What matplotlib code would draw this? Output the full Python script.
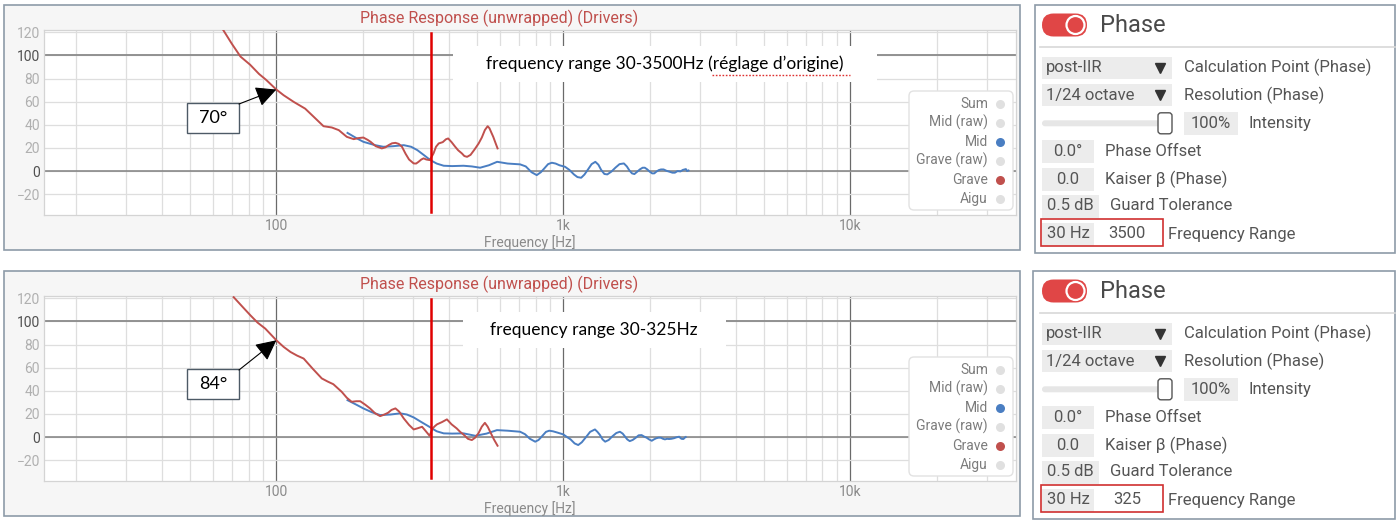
import matplotlib
matplotlib.use("Agg")
import matplotlib.pyplot as plt
import numpy as np
from matplotlib.patches import FancyBboxPatch, Rectangle, Circle
from matplotlib.ticker import LogLocator, FixedLocator, NullFormatter

W, H = 1400, 522

# ---- data ----
# chart 1: frequency range 30-3500 Hz
grave1_f = [65.4, 70, 75, 81, 87, 92, 100, 106, 115, 126, 135, 146, 156, 165, 176, 186, 193, 201, 208, 213,
            222, 233, 240, 246, 253, 260, 267, 274, 282, 290, 301, 307, 313, 320, 326, 333, 342, 347, 353,
            360, 368, 380, 390, 397, 408, 420, 430, 443, 452, 462, 475, 490, 507, 520, 533, 545, 553, 562,
            570, 580, 590]
grave1_v = [121.7, 110, 99, 92, 84, 79, 70.5, 65.6, 59.8, 54, 46.9, 38.8, 37.7, 35.4, 29.6, 27.6, 28.5, 29, 27, 25.3,
            21.5, 19.6, 20.5, 22.4, 24, 24.4, 23.5, 21, 15, 10, 6.6, 6.5, 8, 10, 11, 10, 9.5, 12, 15.3,
            21, 23.9, 25, 27.5, 28.2, 25, 21, 18, 15.3, 13, 12.3, 14, 18.5, 23.9, 29, 35.5, 38.8, 37, 33,
            29.6, 24.5, 19.6]
mid1_f = [177, 190, 201, 220, 236, 255, 278, 295, 310, 328, 344, 362, 383, 410, 449, 480, 513, 550, 588,
          640, 707, 740, 775, 808, 835, 860, 885, 912, 940, 970, 1014, 1050, 1090, 1120, 1154, 1185, 1220,
          1255, 1293, 1325, 1355, 1390, 1423, 1470, 1520, 1570, 1626, 1665, 1700, 1735, 1769, 1810, 1850,
          1890, 1923, 1960, 2000, 2040, 2075, 2110, 2150, 2190, 2236, 2290, 2340, 2400, 2448, 2500, 2560,
          2610, 2674, 2700, 2730]
mid1_v = [33, 28.5, 25.3, 22.5, 21, 21.5, 22.4, 21, 18.1, 13.5, 9.5, 6.5, 4.6, 4.3, 4.6, 4, 2.9, 5, 8,
          6.5, 5.8, 4, -1, -3.5, -1, 2.5, 6, 7.2, 6.5, 5, 3.7, 1, -3, -5.2, -5.8, -3, 1.5,
          6, 8, 5.5, 1, -2.5, -2.9, -0.5, 3, 6, 6.6, 4, 0.5, -2, -2.6, -0.5, 1.5,
          2.9, 2.9, 1.5, -0.5, -2, -2, -0.5, 0.8, 1.4, 1.4, 0.2, -0.5, -1.4, -1.4, 0, -0.3,
          1, 1.7, 0, 0.5]

# chart 2: frequency range 30-325 Hz
grave2_f = [71, 76, 81.2, 86, 91.5, 100, 106, 112, 118, 124.5, 134, 144, 151, 158, 169, 176, 183, 190, 196,
            204, 212, 221, 230, 238, 245, 252, 260, 268, 278, 290, 301, 310, 322, 332, 342, 347, 352, 357,
            363, 378, 393, 408, 425, 437, 450, 465, 480, 493, 506, 520, 533, 545, 556, 573, 590]
grave2_v = [121, 113, 105.3, 99, 93.8, 83.7, 78, 73.6, 70.5, 67.9, 59, 50.7, 48, 45.7, 39.1, 34, 30.5, 31, 31,
            28, 24.8, 20.5, 18.1, 19.5, 21, 23.5, 24.8, 22, 16.1, 10.5, 6.6, 7.5, 8.9, 5, 1.1, 5, 8, 9.5,
            11, 13, 15.3, 11, 7.5, 4.5, 2, -1.5, -2.6, -0.5, 3.2, 9, 12.3, 9, 4.6, -2, -7.5]
mid2_f = [177, 190, 201, 215, 230, 250, 270, 285, 301, 320, 344, 362, 383, 410, 449, 494, 540, 587, 640,
          707, 735, 765, 798, 820, 845, 870, 893, 920, 950, 1000, 1030, 1060, 1095, 1127, 1160, 1200, 1240,
          1289, 1315, 1340, 1370, 1399, 1440, 1480, 1530, 1575, 1610, 1640, 1670, 1704, 1745, 1790, 1830,
          1874, 1910, 1950, 1990, 2033, 2070, 2110, 2150, 2189, 2225, 2260, 2300, 2335, 2380, 2430, 2480,
          2533, 2560, 2580, 2621, 2650, 2670]
mid2_v = [31.9, 28, 24.8, 21.5, 19, 19.5, 20.5, 19.5, 17, 13, 8.4, 5, 3.2, 3, 3.2, 1.1, 3, 6, 5.5,
          4.6, 2.5, -1.5, -4, -2.5, 1, 4.5, 5.5, 5, 4, 2.3, 0, -2, -5.5, -6.9, -4.5, 0, 4.5,
          6.6, 4.5, 2, -2, -4, -2.5, 0.5, 3.5, 4.6, 3, 0.5, -2, -3.5, -2.5, -0.5, 1.5,
          1.7, 0.5, -0.5, -2, -3.2, -2, -1, -0.5, -0.6, -1.5, -2, -1.5, -1.7, -1.5, -1, -0.2,
          0.3, -0.8, -1.5, -1.7, -0.5, 0]

marker_freq = 345          # red vertical marker line
annot_freq = 100           # arrow target
annot_labels = ["70°", "84°"]
notes = ["frequency range 30-3500Hz (réglage d’origine)", "frequency range 30-325Hz"]

y_ticks = [-20, 0, 20, 40, 60, 80, 100, 120]
x_ticks = [100, 1000, 10000]
x_tick_labels = ["100", "1k", "10k"]
legend_names = ["Sum", "Mid (raw)", "Mid", "Grave (raw)", "Grave", "Aigu"]

setting_values = ["post-IIR", "1/24 octave", "100%", "0.0°", "0.0", "0.5 dB", "30 Hz"]
setting_labels = ["Calculation Point (Phase)", "Resolution (Phase)", "Intensity", "Phase Offset",
                  "Kaiser β (Phase)", "Guard Tolerance", "Frequency Range"]
range_ends = ["3500", "325"]

RED = "#c0504d"
BLUE = "#4a7ec2"
GREY_DOT = "#e0e0e0"
legend_colors = [GREY_DOT, GREY_DOT, BLUE, GREY_DOT, RED, GREY_DOT]

CHART_FONT = "Roboto"
NOTE_FONT = "Lato"


def px_rect(x0, y0, x1, y1):
    return [x0 / W, 1 - y1 / H, (x1 - x0) / W, (y1 - y0) / H]


fig = plt.figure(figsize=(W / 100, H / 100), dpi=100)
fig.patch.set_facecolor("white")

bg = fig.add_axes([0, 0, 1, 1], zorder=0)
bg.set_xlim(0, W)
bg.set_ylim(H, 0)
bg.axis("off")

fg = fig.add_axes([0, 0, 1, 1], zorder=10)
fg.set_xlim(0, W)
fg.set_ylim(H, 0)
fg.axis("off")


def draw_chart(dy, grave_f, grave_v, mid_f, mid_v, note, note_cx, note_box, angle_label):
    # panel
    bg.add_patch(Rectangle((4, 5 + dy), 1016, 245, facecolor="#f6f6f6", edgecolor="#8d9ba8", lw=1.2))

    ax = fig.add_axes(px_rect(44, 30 + dy, 1016, 215 + dy), zorder=5)
    ax.set_facecolor("white")
    ax.set_xscale("log")
    ax.set_xlim(15.5, 37800)
    ax.set_ylim(-38, 122)

    ax.xaxis.set_major_locator(FixedLocator(x_ticks))
    ax.set_xticklabels(x_tick_labels)
    ax.xaxis.set_minor_locator(LogLocator(base=10, subs=range(2, 10)))
    ax.xaxis.set_minor_formatter(NullFormatter())
    ax.set_yticks(y_ticks)

    ax.grid(which="minor", axis="x", color="#dedede", lw=0.9)
    ax.grid(which="major", axis="x", color="#6a6a6a", lw=0.9)
    ax.grid(which="major", axis="y", color="#dedede", lw=0.9)
    ax.set_axisbelow(True)
    ax.axhline(0, color="#808080", lw=1.1, zorder=1)
    ax.axhline(100, color="#8a8a8a", lw=1.3, zorder=1)

    for s in ax.spines.values():
        s.set_color("#d4d4d4")
        s.set_linewidth(0.9)
    ax.tick_params(which="both", length=0)
    ax.tick_params(axis="y", pad=3, labelsize=10, labelcolor="#b0b0b0")
    ax.tick_params(axis="x", pad=3, labelsize=10, labelcolor="#8a8a8a")
    for lab, val in zip(ax.get_yticklabels(), y_ticks):
        lab.set_fontfamily(CHART_FONT)
        if val in (0, 100):
            lab.set_color("#505050")
    for lab in ax.get_xticklabels():
        lab.set_fontfamily(CHART_FONT)

    ax.set_xlabel("Frequency [Hz]", fontsize=10, color="#8a8a8a", family=CHART_FONT, labelpad=1)

    ax.plot(mid_f, mid_v, color=BLUE, lw=1.4, zorder=3, solid_joinstyle="round")
    ax.plot(grave_f, grave_v, color=RED, lw=1.4, zorder=3, solid_joinstyle="round")
    ax.axvline(marker_freq, ymin=0.015, ymax=0.985, color="#e00000", lw=1.8, zorder=4)

    fig.text(499 / W, 1 - (18 + dy) / H, "Phase Response (unwrapped) (Drivers)", ha="center", va="center",
             fontsize=11.5, color=RED, family=CHART_FONT)

    # white note box covering the grid
    x0, x1 = note_box
    fg.add_patch(Rectangle((x0, 46 + dy), x1 - x0, 36, facecolor="white", edgecolor="none"))
    fg.text(note_cx, 64 + dy, note, ha="center", va="center", fontsize=12.5, color="black", family=NOTE_FONT)

    # angle callout
    fg.add_patch(Rectangle((187, 103 + dy), 52, 30, facecolor="white", edgecolor="#4d5a66", lw=1))
    fg.text(213, 118 + dy, angle_label, ha="center", va="center", fontsize=13, color="black", family=NOTE_FONT)
    target_v = np.interp(annot_freq, grave_f, grave_v)
    fg.annotate("", xy=(annot_freq, target_v), xycoords=ax.transData,
                xytext=(239, 104 + dy), textcoords=fg.transData,
                arrowprops=dict(arrowstyle="-|>,head_length=0.9,head_width=0.45", color="black", lw=0.8,
                                shrinkA=0, shrinkB=0, mutation_scale=14))

    # legend
    fg.add_patch(FancyBboxPatch((909, 91 + dy), 104, 119, boxstyle="round,pad=0,rounding_size=5",
                                facecolor="white", edgecolor="#e2e2e2", lw=1))
    for i, (name, c) in enumerate(zip(legend_names, legend_colors)):
        yy = 103.5 + i * 19 + dy
        fg.text(988, yy, name, ha="right", va="center", fontsize=10, color="#7c7c7c", family=CHART_FONT)
        fg.plot([999.5], [yy], marker="o", ms=6.5, color=c, mec="none")
    return ax


ax1 = draw_chart(0, grave1_f, grave1_v, mid1_f, mid1_v, notes[0], 665, (453, 877), annot_labels[0])
ax2 = draw_chart(266, grave2_f, grave2_v, mid2_f, mid2_v, notes[1], 594, (463, 726), annot_labels[1])

# spell-check squiggle under "réglage d'origine"
fg.plot([712, 850], [75, 75], color="#e03030", lw=1, ls=(0, (1.2, 1.2)))


def draw_settings(dy, px0, range_end):
    bg.add_patch(Rectangle((px0, 5 + dy), 1395 - px0, 248, facecolor="white", edgecolor="#8d9ba8", lw=1.2))
    # toggle
    fg.add_patch(FancyBboxPatch((1042, 13.5 + dy), 45, 23, boxstyle="round,pad=0,rounding_size=11.5",
                                facecolor="#e04646", edgecolor="none"))
    fg.add_patch(Circle((1075.5, 25 + dy), 9, facecolor="#e04646", edgecolor="white", lw=1.6))
    fg.text(1100, 25 + dy, "Phase", ha="left", va="center", fontsize=17, color="#4a4a4a", family=CHART_FONT)
    fg.plot([1040, 1395], [46.5 + dy, 46.5 + dy], color="#d8d8d8", lw=1.2)

    box = dict(facecolor="#ececec", edgecolor="none")
    txt = dict(va="center", fontsize=12, color="#555555", family=CHART_FONT)
    row_y = [67.5, 95.3, 123.3, 151, 179, 206, 234]

    # dropdowns
    for k in range(2):
        yy = row_y[k] + dy
        fg.add_patch(Rectangle((1042, yy - 11), 130, 22, **box))
        fg.text(1046, yy, setting_values[k], ha="left", **txt)
        fg.plot([1160], [yy], marker="v", ms=7, color="#333333")
        fg.text(1184, yy, setting_labels[k], ha="left", **txt)

    # slider
    yy = row_y[2] + dy
    fg.add_patch(FancyBboxPatch((1042, yy - 3), 120, 6, boxstyle="round,pad=0,rounding_size=3",
                                facecolor="#e6e6e6", edgecolor="none"))
    fg.add_patch(FancyBboxPatch((1158, yy - 10.5), 14, 21, boxstyle="round,pad=0,rounding_size=3",
                                facecolor="white", edgecolor="#555555", lw=1))
    fg.add_patch(Rectangle((1184, yy - 11.5), 54, 23, **box))
    fg.text(1211, yy, setting_values[2], ha="center", **txt)
    fg.text(1248, yy, setting_labels[2], ha="left", **txt)

    # small value boxes
    widths = [52, 52, 57]
    for k, w in zip(range(3, 6), widths):
        yy = row_y[k] + dy
        fg.add_patch(Rectangle((1042, yy - 11.5), w, 23, **box))
        fg.text(1042 + w / 2, yy, setting_values[k], ha="center", **txt)
        fg.text(1042 + w + 11, yy, setting_labels[k], ha="left", **txt)

    # frequency range
    yy = row_y[6] + dy
    fg.add_patch(Rectangle((1042, yy - 11.5), 52, 23, **box))
    fg.text(1068, yy, setting_values[6], ha="center", **txt)
    fg.text(1127, yy, range_end, ha="center", **txt)
    fg.add_patch(Rectangle((1040.5, yy - 15.5), 122.5, 27.5, facecolor="none", edgecolor="#d03030", lw=1.2))
    fg.text(1168, yy, setting_labels[6], ha="left", **txt)


draw_settings(0, 1035, range_ends[0])
draw_settings(266, 1033, range_ends[1])

fig.savefig("out.png", dpi=100, facecolor="white")
